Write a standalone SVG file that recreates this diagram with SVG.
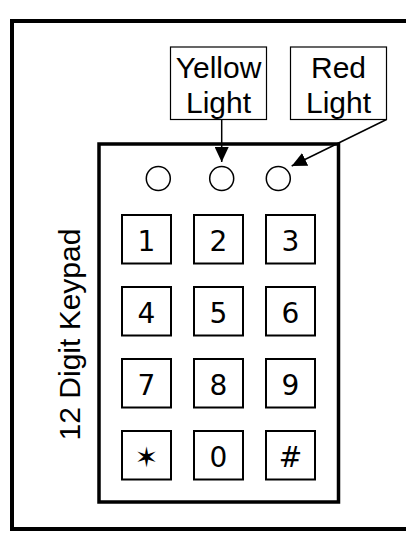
<svg xmlns="http://www.w3.org/2000/svg" width="406" height="542" viewBox="0 0 406 542">
<style>
.frame{fill:none;stroke:#000;stroke-width:4}
.pad{fill:#fff;stroke:#000;stroke-width:3.5}
.key{fill:#fff;stroke:#000;stroke-width:2}
.led{fill:#fff;stroke:#000;stroke-width:1.5}
.lbl{fill:#fff;stroke:#000;stroke-width:1.2}
.dt{font-family:"DejaVu Sans",sans-serif;font-size:28px;text-anchor:middle;fill:#000}
.lt{font-family:"Liberation Sans",Arial,sans-serif;font-size:30px;text-anchor:middle;fill:#000}
.conn{fill:none;stroke:#000;stroke-width:1.5}
</style>
<defs>
<marker id="ah" markerUnits="userSpaceOnUse" viewBox="0 0 15 14" refX="15" refY="7" markerWidth="15" markerHeight="14" orient="auto">
<path d="M0,0 L15,7 L0,14 Z" fill="#000"/>
</marker>
</defs>
<rect width="406" height="542" fill="#fff"/>
<path class="frame" d="M406,21 H12 V529 H406"/>
<g id="keypad">
<rect class="pad" x="99" y="144" width="239.5" height="358"/>
<text class="lt" font-size="29.5" transform="translate(80,334.5) rotate(-90)">12 Digit Keypad</text>
</g>
<g id="led1"><circle class="led" cx="158.3" cy="178.5" r="12"/></g>
<g id="led2"><circle class="led" cx="221.7" cy="178.5" r="12"/></g>
<g id="led3"><circle class="led" cx="278.3" cy="178.5" r="12"/></g>
<g id="key1"><rect class="key" x="122" y="215" width="49" height="48.5"/><text class="dt" x="146.5" y="250.7">1</text></g>
<g id="key2"><rect class="key" x="194" y="215" width="49" height="48.5"/><text class="dt" x="218.5" y="250.7">2</text></g>
<g id="key3"><rect class="key" x="266" y="215" width="49" height="48.5"/><text class="dt" x="290.5" y="250.7">3</text></g>
<g id="key4"><rect class="key" x="122" y="287" width="49" height="48.5"/><text class="dt" x="146.5" y="322.7">4</text></g>
<g id="key5"><rect class="key" x="194" y="287" width="49" height="48.5"/><text class="dt" x="218.5" y="322.7">5</text></g>
<g id="key6"><rect class="key" x="266" y="287" width="49" height="48.5"/><text class="dt" x="290.5" y="322.7">6</text></g>
<g id="key7"><rect class="key" x="122" y="359" width="49" height="48.5"/><text class="dt" x="146.5" y="394.7">7</text></g>
<g id="key8"><rect class="key" x="194" y="359" width="49" height="48.5"/><text class="dt" x="218.5" y="394.7">8</text></g>
<g id="key9"><rect class="key" x="266" y="359" width="49" height="48.5"/><text class="dt" x="290.5" y="394.7">9</text></g>
<g id="keyStar"><rect class="key" x="122" y="431" width="49" height="48.5"/><text class="dt" x="146.5" y="466.5" font-size="28">✶</text></g>
<g id="key0"><rect class="key" x="194" y="431" width="49" height="48.5"/><text class="dt" x="218.5" y="466.7">0</text></g>
<g id="keyHash"><rect class="key" x="266" y="431" width="49" height="48.5"/><text class="dt" x="290.5" y="466.7">#</text></g>
<g id="yellowLight">
<rect class="lbl" x="170.5" y="47" width="96" height="72.5"/>
<text class="lt" x="218.5" y="78">Yellow</text>
<text class="lt" x="218.5" y="113.3">Light</text>
</g>
<g id="redLight">
<rect class="lbl" x="290.5" y="47" width="96" height="72.5"/>
<text class="lt" x="338.5" y="78">Red</text>
<text class="lt" x="338.5" y="113.3">Light</text>
</g>
<g id="connectors">
<line class="conn" x1="221.7" y1="119.5" x2="221.7" y2="162" marker-end="url(#ah)"/>
<line class="conn" x1="386.5" y1="119.5" x2="291.7" y2="166" marker-end="url(#ah)"/>
</g>
</svg>
